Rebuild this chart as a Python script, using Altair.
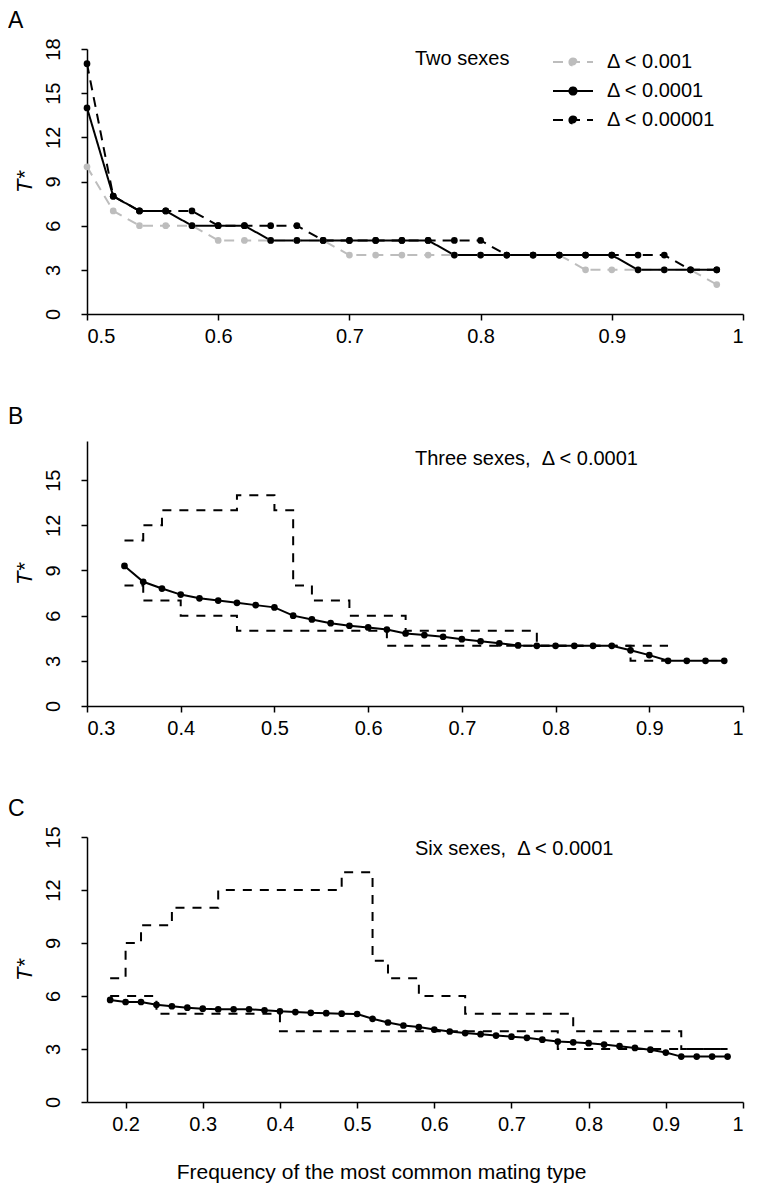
import altair as alt
import pandas as pd

FONT = "Liberation Sans"

# ---------------- Panel A: two sexes ----------------
xa = [0.50, 0.52, 0.54, 0.56, 0.58, 0.60, 0.62, 0.64, 0.66, 0.68, 0.70, 0.72, 0.74,
      0.76, 0.78, 0.80, 0.82, 0.84, 0.86, 0.88, 0.90, 0.92, 0.94, 0.96, 0.98]
a_d3 = [10, 7, 6, 6, 6, 5, 5, 5, 5, 5, 4, 4, 4, 4, 4, 4, 4, 4, 4, 3, 3, 3, 3, 3, 2]
a_d4 = [14, 8, 7, 7, 6, 6, 6, 5, 5, 5, 5, 5, 5, 5, 4, 4, 4, 4, 4, 4, 4, 3, 3, 3, 3]
a_d5 = [17, 8, 7, 7, 7, 6, 6, 6, 6, 5, 5, 5, 5, 5, 5, 5, 4, 4, 4, 4, 4, 4, 4, 3, 3]
series_labels = ["Δ < 0.001", "Δ < 0.0001", "Δ < 0.00001"]

# ---------------- Panel B: three sexes ----------------
xb = [0.34, 0.36, 0.38, 0.40, 0.42, 0.44, 0.46, 0.48, 0.50, 0.52, 0.54, 0.56, 0.58,
      0.60, 0.62, 0.64, 0.66, 0.68, 0.70, 0.72, 0.74, 0.76, 0.78, 0.80, 0.82, 0.84,
      0.86, 0.88, 0.90, 0.92, 0.94, 0.96, 0.98]
b_mean = [9.3, 8.25, 7.8, 7.4, 7.15, 7.0, 6.85, 6.7, 6.55, 6.0, 5.75, 5.5, 5.33,
          5.22, 5.08, 4.82, 4.71, 4.6, 4.44, 4.3, 4.16, 4.02, 4.0, 4.0, 4.0, 4.0,
          4.0, 3.7, 3.38, 3.0, 3.0, 3.0, 3.0]
b_up_x = [0.34, 0.36, 0.38, 0.46, 0.50, 0.52, 0.54, 0.58, 0.64, 0.78, 0.92]
b_up_y = [11, 12, 13, 14, 13, 8, 7, 6, 5, 4, 4]
b_lo_x = [0.34, 0.36, 0.40, 0.46, 0.62, 0.88, 0.92]
b_lo_y = [8, 7, 6, 5, 4, 3, 3]

# ---------------- Panel C: six sexes ----------------
xc = [0.18, 0.20, 0.22, 0.24, 0.26, 0.28, 0.30, 0.32, 0.34, 0.36, 0.38, 0.40, 0.42,
      0.44, 0.46, 0.48, 0.50, 0.52, 0.54, 0.56, 0.58, 0.60, 0.62, 0.64, 0.66, 0.68,
      0.70, 0.72, 0.74, 0.76, 0.78, 0.80, 0.82, 0.84, 0.86, 0.88, 0.90, 0.92, 0.94,
      0.96, 0.98]
c_mean = [5.78, 5.66, 5.66, 5.5, 5.42, 5.34, 5.28, 5.25, 5.25, 5.25, 5.19, 5.13, 5.09,
          5.05, 5.03, 5.0, 4.98, 4.71, 4.5, 4.33, 4.24, 4.1, 3.99, 3.9, 3.84, 3.76,
          3.7, 3.63, 3.53, 3.42, 3.38, 3.33, 3.25, 3.16, 3.06, 2.96, 2.8, 2.57, 2.57,
          2.57, 2.57]
c_up_x = [0.18, 0.20, 0.22, 0.26, 0.32, 0.48, 0.52, 0.54, 0.58, 0.64, 0.78, 0.92, 0.98]
c_up_y = [7, 9, 10, 11, 12, 13, 8, 7, 6, 5, 4, 3, 3]
c_lo_x = [0.18, 0.24, 0.40, 0.76, 0.98]
c_lo_y = [6, 5, 4, 3, 3]

x_title = "Frequency of the most common mating type"
y_title = "T*"
NB = "\u00a0"

W, H = 656, 265
LW = 2
DASH = [10, 7]


def yaxis(vals):
    return alt.Axis(values=vals, title=y_title, labelAngle=270, labelAlign="center",
                    labelBaseline="bottom", labelPadding=18, titleFontStyle="italic",
                    titleFontSize=22, titlePadding=7, titleFontWeight="normal")


def xaxis(vals, title=None):
    kw = dict(values=vals, format="~g", labelPadding=6)
    if title:
        kw.update(title=title, titleFontSize=21, titleFontWeight="normal",
                  titleX=294, titleY=70, titleAlign="center", titleBaseline="middle")
    else:
        kw.update(title=None)
    return alt.Axis(**kw)


def letter(ch, yoff):
    return alt.Chart(pd.DataFrame({"t": [ch]})).mark_text(
        font=FONT, fontSize=23, align="left", baseline="alphabetic", color="black"
    ).encode(x=alt.value(-79), y=alt.value(yoff), text="t:N")


def note(txt, xv, yv, xs, ys):
    return alt.Chart(pd.DataFrame({"x": [xv], "y": [yv], "t": [txt]})).mark_text(
        font=FONT, fontSize=20, align="left", baseline="middle", color="black"
    ).encode(x=alt.X("x:Q", scale=xs), y=alt.Y("y:Q", scale=ys), text="t:N")


# ---- Panel A ----
dfA = pd.DataFrame({
    "x": xa * 3,
    "T": a_d3 + a_d4 + a_d5,
    "s": [series_labels[0]] * len(xa) + [series_labels[1]] * len(xa) + [series_labels[2]] * len(xa),
})
xsA = alt.Scale(domain=[0.5, 1.0], nice=False)
ysA = alt.Scale(domain=[0, 18], nice=False)
cscale = alt.Scale(domain=series_labels, range=["#bdbdbd", "black", "black"])
dscale = alt.Scale(domain=series_labels, range=[DASH, [1, 0], DASH])
SYM = "M-2,0H2M-0.36,0A0.36,0.36,0,1,1,0.36,0A0.36,0.36,0,1,1,-0.36,0"
leg = alt.Legend(title=None, orient="none", legendX=475, legendY=2, symbolType=SYM,
                 symbolSize=400, symbolStrokeWidth=2, labelFont=FONT, labelFontSize=20,
                 labelOffset=23, rowPadding=8, padding=0, labelColor="black",
                 symbolOpacity=1)

lineA = alt.Chart(dfA).mark_line(strokeWidth=LW).encode(
    x=alt.X("x:Q", scale=xsA, axis=xaxis([0.5, 0.6, 0.7, 0.8, 0.9, 1.0])),
    y=alt.Y("T:Q", scale=ysA, axis=yaxis([0, 3, 6, 9, 12, 15, 18])),
    color=alt.Color("s:N", scale=cscale, legend=leg, sort=series_labels),
    strokeDash=alt.StrokeDash("s:N", scale=dscale, legend=leg, sort=series_labels),
)
ptsA = alt.Chart(dfA).mark_point(filled=True, size=45, opacity=1).encode(
    x=alt.X("x:Q", scale=xsA),
    y=alt.Y("T:Q", scale=ysA),
    color=alt.Color("s:N", scale=cscale, legend=leg, sort=series_labels),
)
panelA = alt.layer(
    lineA, ptsA, note("Two sexes", 0.75, 17.3, xsA, ysA), letter("A", -21)
).properties(width=W, height=H)

# ---- Panel B ----
xsB = alt.Scale(domain=[0.3, 1.0], nice=False)
ysB = alt.Scale(domain=[0, 17.6], nice=False)
dfB = pd.DataFrame({"x": xb, "T": b_mean})
dfBu = pd.DataFrame({"x": b_up_x, "T": b_up_y})
dfBl = pd.DataFrame({"x": b_lo_x, "T": b_lo_y})
baseB_x = alt.X("x:Q", scale=xsB, axis=xaxis([0.3, 0.4, 0.5, 0.6, 0.7, 0.8, 0.9, 1.0]))
baseB_y = alt.Y("T:Q", scale=ysB, axis=yaxis([0, 3, 6, 9, 12, 15]))
panelB = alt.layer(
    alt.Chart(dfBu).mark_line(interpolate="step-after", color="black", strokeWidth=LW,
                              strokeDash=[9, 8]).encode(x=baseB_x, y=baseB_y),
    alt.Chart(dfBl).mark_line(interpolate="step-after", color="black", strokeWidth=LW,
                              strokeDash=[9, 8]).encode(x=baseB_x, y=baseB_y),
    alt.Chart(dfB).mark_line(color="black", strokeWidth=LW).encode(x=baseB_x, y=baseB_y),
    alt.Chart(dfB).mark_point(filled=True, color="black", size=45, opacity=1).encode(x=baseB_x, y=baseB_y),
    note("Three sexes," + NB + NB + "Δ < 0.0001", 0.65, 16.4, xsB, ysB),
    letter("B", -17),
).properties(width=W, height=H)

# ---- Panel C ----
xsC = alt.Scale(domain=[0.15, 1.0], nice=False)
ysC = alt.Scale(domain=[0, 15], nice=False)
dfC = pd.DataFrame({"x": xc, "T": c_mean})
dfCu = pd.DataFrame({"x": c_up_x, "T": c_up_y})
dfCl = pd.DataFrame({"x": c_lo_x, "T": c_lo_y})
baseC_x = alt.X("x:Q", scale=xsC, axis=xaxis([0.2, 0.3, 0.4, 0.5, 0.6, 0.7, 0.8, 0.9, 1.0], x_title))
baseC_y = alt.Y("T:Q", scale=ysC, axis=yaxis([0, 3, 6, 9, 12, 15]))
panelC = alt.layer(
    alt.Chart(dfCu).mark_line(interpolate="step-after", color="black", strokeWidth=LW,
                              strokeDash=[9, 8]).encode(x=baseC_x, y=baseC_y),
    alt.Chart(dfCl).mark_line(interpolate="step-after", color="black", strokeWidth=LW,
                              strokeDash=[9, 8]).encode(x=baseC_x, y=baseC_y),
    alt.Chart(dfC).mark_line(color="black", strokeWidth=LW).encode(x=baseC_x, y=baseC_y),
    alt.Chart(dfC).mark_point(filled=True, color="black", size=45, opacity=1).encode(x=baseC_x, y=baseC_y),
    note("Six sexes," + NB + NB + "Δ < 0.0001", 0.575, 14.3, xsC, ysC),
    letter("C", -21),
).properties(width=W, height=H)

chart = alt.vconcat(panelA, panelB, panelC, spacing=60).resolve_scale(
    x="independent", y="independent"
).properties(
    padding={"left": 0, "top": 2, "right": 5, "bottom": 5},
    background="white",
).configure_view(stroke=None).configure_axis(
    labelFont=FONT, labelFontSize=20, labelColor="black", titleFont=FONT,
    titleColor="black", domainColor="black", tickColor="black", domainWidth=1.5,
    tickWidth=1.5, tickSize=6, grid=False
)

chart.save("out.html", embed_options={"renderer": "svg", "actions": False})
